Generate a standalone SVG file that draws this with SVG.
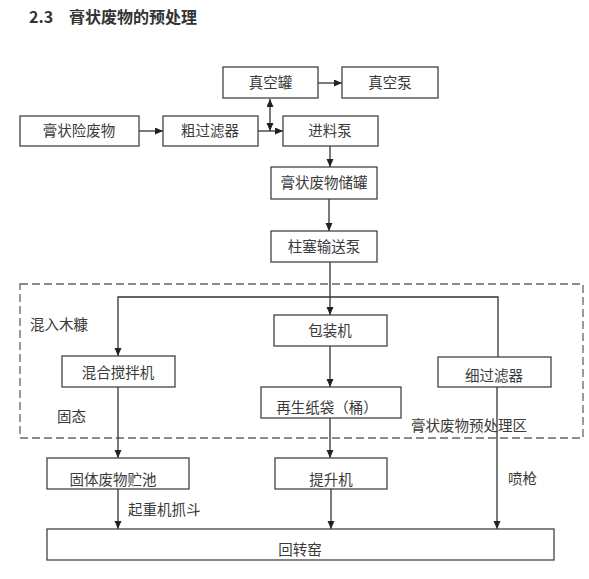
<svg xmlns="http://www.w3.org/2000/svg" width="589" height="579" viewBox="0 0 589 579">
<style>
.box{fill:#fff;stroke:#444;stroke-width:1.3}
.t{font-family:"Noto Sans CJK SC","Noto Sans",sans-serif;font-size:14.5px;fill:#3a3a3a;text-anchor:middle}
.l{font-family:"Noto Sans CJK SC","Noto Sans",sans-serif;font-size:14.5px;fill:#3a3a3a}
.c{fill:none;stroke:#333;stroke-width:1.3}
.title{font-family:"Noto Sans CJK SC","Noto Sans",sans-serif;font-size:16px;font-weight:bold;fill:#333}
</style>
<defs>
<marker id="ah" markerUnits="userSpaceOnUse" markerWidth="9" markerHeight="8" refX="8" refY="3.5" orient="auto-start-reverse">
<path d="M0,0 L8,3.5 L0,7 z" fill="#222"/>
</marker>
</defs>
<rect width="589" height="579" fill="#fff"/>
<text class="title" x="29" y="23">2.3</text>
<text class="title" x="69" y="23">膏状废物的预处理</text>

<rect x="20" y="284" width="563" height="154" fill="none" stroke="#666" stroke-width="1.3" stroke-dasharray="8,4"/>
<text class="l" x="30" y="330">混入木糠</text>
<text class="l" x="57" y="422">固态</text>
<text class="l" x="411" y="431">膏状废物预处理区</text>
<text class="l" x="128" y="515">起重机抓斗</text>
<text class="l" x="508" y="484">喷枪</text>

<g id="connectors">
<path class="c" d="M139,131 H163" marker-end="url(#ah)"/>
<path class="c" d="M258,131 H283" marker-end="url(#ah)"/>
<path class="c" d="M270,99 V131" marker-start="url(#ah)" marker-end="url(#ah)"/>
<path class="c" d="M318,83 H342" marker-end="url(#ah)"/>
<path class="c" d="M330,146 V167" marker-end="url(#ah)"/>
<path class="c" d="M329,199 V231" marker-end="url(#ah)"/>
<path class="c" d="M330,262 V315" marker-end="url(#ah)"/>
<path class="c" d="M498,357 V297 H118 V356" marker-end="url(#ah)"/>
<path class="c" d="M330,346 V387" marker-end="url(#ah)"/>
<path class="c" d="M330,418 V458" marker-end="url(#ah)"/>
<path class="c" d="M118,387 V458" marker-end="url(#ah)"/>
<path class="c" d="M118,489 V529" marker-end="url(#ah)"/>
<path class="c" d="M331,489 V529" marker-end="url(#ah)"/>
<path class="c" d="M497,387 V529" marker-end="url(#ah)"/>
</g>

<g id="n-vacuum-tank"><rect class="box" x="223" y="67" width="95" height="31"/><text class="t" x="270.5" y="88">真空罐</text></g>
<g id="n-vacuum-pump"><rect class="box" x="342" y="67" width="96" height="31"/><text class="t" x="390" y="88">真空泵</text></g>
<g id="n-waste"><rect class="box" x="20" y="116" width="119" height="30"/><text class="t" x="79" y="136">膏状险废物</text></g>
<g id="n-coarse"><rect class="box" x="163" y="116" width="95" height="30"/><text class="t" x="210" y="136">粗过滤器</text></g>
<g id="n-feed-pump"><rect class="box" x="283" y="116" width="95" height="30"/><text class="t" x="330" y="136">进料泵</text></g>
<g id="n-storage"><rect class="box" x="271" y="167" width="106" height="32"/><text class="t" x="324" y="188">膏状废物储罐</text></g>
<g id="n-plunger"><rect class="box" x="271" y="231" width="106" height="31"/><text class="t" x="324" y="252">柱塞输送泵</text></g>
<g id="n-pack"><rect class="box" x="274" y="315" width="113" height="31"/><text class="t" x="330" y="336">包装机</text></g>
<g id="n-mixer"><rect class="box" x="62" y="356" width="113" height="31"/><text class="t" x="118" y="378">混合搅拌机</text></g>
<g id="n-bag"><rect class="box" x="261" y="387" width="140" height="31"/><text class="t" x="327" y="413">再生纸袋（桶）</text></g>
<g id="n-fine"><rect class="box" x="438" y="357" width="113" height="30"/><text class="t" x="494" y="381">细过滤器</text></g>
<g id="n-pit"><rect class="box" x="47" y="458" width="142" height="31"/><text class="t" x="113" y="485">固体废物贮池</text></g>
<g id="n-lift"><rect class="box" x="275" y="458" width="112" height="31"/><text class="t" x="331" y="485">提升机</text></g>
<g id="n-kiln"><rect class="box" x="47" y="529" width="507" height="31"/><text class="t" x="300" y="555">回转窑</text></g>
</svg>
